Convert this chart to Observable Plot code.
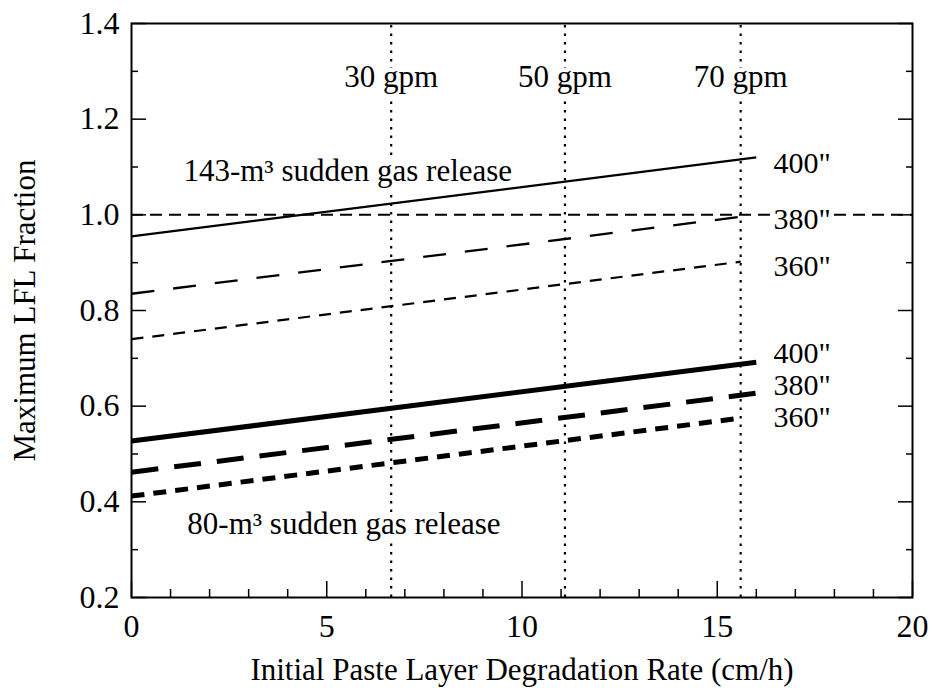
<!DOCTYPE html>
<html>
<head>
<meta charset="utf-8">
<script src="https://cdn.jsdelivr.net/npm/d3@7"></script>
<script src="https://cdn.jsdelivr.net/npm/@observablehq/plot@0.6"></script>
<style>
  html, body { margin: 0; padding: 0; background: #fff; }
  #chart svg, #chart svg text { font-family: "Liberation Serif", "Times New Roman", serif !important; }
</style>
</head>
<body>
<div id="chart"></div>
<script>
// Degradation rate (cm/h) at the two ends of each computed line
const rateFull = [0, 16];
const rateShort = [0, 15.6];

// 143-m3 sudden gas release, waste levels 400", 380", 360"
const big400 = [0.955, 1.12];
const big380 = [0.835, 1.0];
const big360 = [0.74, 0.902];

// 80-m3 sudden gas release, waste levels 400", 380", 360"
const small400 = [0.527, 0.692];
const small380 = [0.462, 0.627];
const small360 = [0.412, 0.575];

// Pump flow rates and the degradation rates they correspond to
const gpmLabels = ["30 gpm", "50 gpm", "70 gpm"];
const gpmRates = [6.65, 11.1, 15.6];
const gpmLabelY = 1.288;

// Level labels at the right-hand end of each line
const levelLabels = ["400\"", "380\"", "360\"", "400\"", "380\"", "360\""];
const levelLabelY = [1.108, 0.99, 0.893, 0.71, 0.644, 0.577];
const levelLabelX = 16.44;

// Release labels
const releaseLabels = ["143-m\u00B3 sudden gas release", "80-m\u00B3 sudden gas release"];
const releaseX = [1.33, 1.43];
const releaseY = [1.092, 0.354];

const lflLimit = [1.0];

// Axis ticks
const xMajor = [0, 5, 10, 15, 20];
const xMinor = [1, 2, 3, 4, 6, 7, 8, 9, 11, 12, 13, 14, 16, 17, 18, 19];
const yMajor = [0.2, 0.4, 0.6, 0.8, 1.0, 1.2, 1.4];
const yMinor = [0.3, 0.5, 0.7, 0.9, 1.1, 1.3];

const serif = "'Liberation Serif', 'Times New Roman', serif";

const toRows = (xs, ys) => xs.map((x, i) => ({x, y: ys[i]}));

const lineSpecs = [
  {rows: toRows(rateFull, big400), strokeWidth: 2.3, dash: null},
  {rows: toRows(rateFull, big380), strokeWidth: 2.3, dash: "23,19"},
  {rows: toRows(rateShort, big360), strokeWidth: 2.2, dash: "12,9"},
  {rows: toRows(rateFull, small400), strokeWidth: 5, dash: null},
  {rows: toRows(rateFull, small380), strokeWidth: 5, dash: "27,16"},
  {rows: toRows(rateShort, small360), strokeWidth: 5, dash: "13,9"}
];

const labelRows = levelLabels.map((t, i) => ({t, x: levelLabelX, y: levelLabelY[i]}));
const gpmRows = gpmLabels.map((t, i) => ({t, x: gpmRates[i], y: gpmLabelY}));
const releaseRows = releaseLabels.map((t, i) => ({t, x: releaseX[i], y: releaseY[i]}));

const halo = {stroke: "white", strokeWidth: 8, paintOrder: "stroke", strokeLinejoin: "round", fill: "black", fontFamily: serif};

const chart = Plot.plot({
  width: 932,
  height: 688,
  marginLeft: 131,
  marginRight: 20,
  marginTop: 23,
  marginBottom: 91,
  style: {fontFamily: serif, fontSize: "31px", background: "white", color: "black"},
  x: {domain: [0, 20], axis: null},
  y: {domain: [0.2, 1.4], axis: null},
  marks: [
    // pump-rate reference lines
    Plot.ruleX(gpmRates, {y1: 0.2, y2: 1.4, stroke: "black", strokeWidth: 2.2, strokeDasharray: "2.5,6"}),
    // LFL = 1 reference line
    Plot.ruleY(lflLimit, {stroke: "black", strokeWidth: 2, strokeDasharray: "12,7"}),
    // computed lines
    ...lineSpecs.map(s => Plot.line(s.rows, {
      x: "x", y: "y", stroke: "black", strokeWidth: s.strokeWidth,
      strokeDasharray: s.dash, strokeLinecap: "butt"
    })),
    // text
    Plot.text(gpmRows, {x: "x", y: "y", text: "t", fontSize: 31, textAnchor: "middle", ...halo}),
    Plot.text(labelRows, {x: "x", y: "y", text: "t", fontSize: 30, textAnchor: "start", ...halo}),
    Plot.text(releaseRows, {x: "x", y: "y", text: "t", fontSize: 31, textAnchor: "start", ...halo}),
    // axes: inward ticks
    Plot.axisX({ticks: xMinor, tickSize: -8, tickFormat: () => "", label: null, strokeWidth: 1.5}),
    Plot.axisX({ticks: xMajor, tickSize: -16, tickPadding: 33, label: null, strokeWidth: 1.5, fontSize: 32, fontFamily: serif}),
    Plot.axisY({ticks: yMinor, tickSize: -7, tickFormat: () => "", label: null, strokeWidth: 1.5}),
    Plot.axisY({ticks: yMajor, tickSize: -15, tickPadding: 27, tickFormat: d3.format(".1f"), label: null, strokeWidth: 1.5, fontSize: 32, fontFamily: serif}),
    Plot.axisY({ticks: yMinor, anchor: "right", tickSize: -7, tickFormat: () => "", label: null, strokeWidth: 1.5}),
    Plot.axisY({ticks: yMajor, anchor: "right", tickSize: -15, tickFormat: () => "", label: null, strokeWidth: 1.5}),
    Plot.frame({stroke: "black", strokeWidth: 2}),
    // axis titles
    Plot.text(["Initial Paste Layer Degradation Rate (cm/h)"], {frameAnchor: "bottom", textAnchor: "middle", dy: 82, fontSize: 31, fontFamily: serif}),
    Plot.text(["Maximum LFL Fraction"], {frameAnchor: "left", textAnchor: "middle", dx: -106, rotate: -90, fontSize: 31, fontFamily: serif})
  ]
});

document.getElementById("chart").appendChild(chart);
</script>
</body>
</html>
